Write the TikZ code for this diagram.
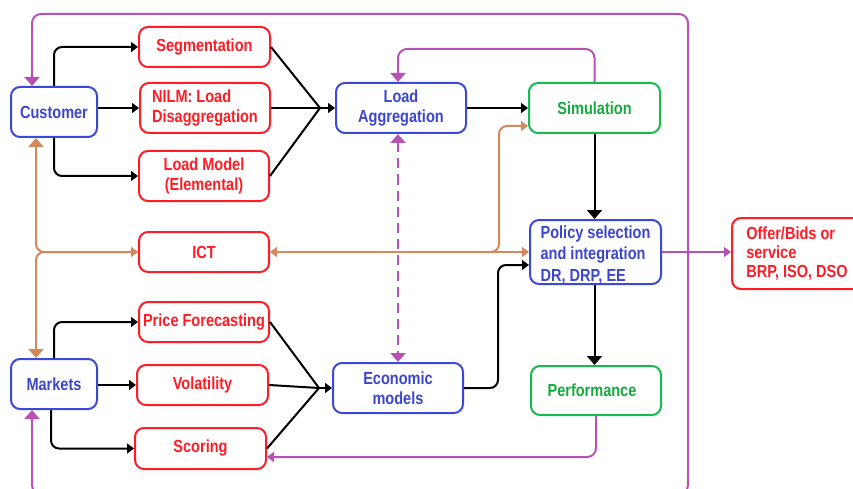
\documentclass[tikz,border=0pt]{standalone}
\usepackage{fontspec}
\setmainfont{Liberation Sans}[FakeStretch=0.83]
\usetikzlibrary{arrows.meta}
\definecolor{cred}{RGB}{255,28,36}
\definecolor{cblue}{RGB}{58,74,214}
\definecolor{tblue}{RGB}{60,70,205}
\definecolor{cgreen}{RGB}{22,186,80}
\definecolor{tgreen}{RGB}{20,170,60}
\definecolor{cpurple}{RGB}{182,82,182}
\definecolor{corange}{RGB}{212,136,92}
\begin{document}
\begin{tikzpicture}[x=1pt,y=-1pt,
  box/.style={draw, rounded corners=9pt, line width=2pt, fill=white,
    inner xsep=2pt, inner ysep=0pt, align=center,
    font=\fontsize{17.5}{20.5}\selectfont\bfseries},
  rbox/.style={box, draw=cred, text=cred},
  bbox/.style={box, draw=cblue, text=tblue},
  gbox/.style={box, draw=cgreen, text=tgreen},
  wire/.style={line width=2pt},
  blk/.style={wire, draw=black},
  prp/.style={wire, draw=cpurple},
  org/.style={wire, draw=corange},
  sa/.style={-{Triangle[width=10pt,length=7pt]}},
  ba/.style={-{Triangle[width=15pt,length=9pt]}},
  sasa/.style={{Triangle[width=10pt,length=7pt]}-{Triangle[width=10pt,length=7pt]}},
  baba/.style={{Triangle[width=15pt,length=9pt]}-{Triangle[width=15pt,length=9pt]}}]
\useasboundingbox (0,0) rectangle (853,489);

% ---- boxes ----
\node[bbox, minimum width=86pt, minimum height=50pt] (cust) at (54,112) {Customer};
\node[bbox, minimum width=86pt, minimum height=50pt] (mk) at (54,384) {Markets};

\node[rbox, minimum width=131pt, minimum height=40pt] (seg) at (204.5,47) {Segmentation};
\node[rbox, anchor=west, inner xsep=11pt, align=left, minimum width=130pt, minimum height=50pt] (nilm) at (139,108) {NILM: Load\\Disaggregation};
\node[rbox, minimum width=130pt, minimum height=50pt] (lm) at (204,176) {Load Model\\(Elemental)};
\node[rbox, minimum width=130pt, minimum height=40pt] (ict) at (204,252) {ICT};
\node[rbox, minimum width=130pt, minimum height=40pt] (pf) at (204,322) {Price Forecasting};
\node[rbox, minimum width=131pt, minimum height=40pt] (vol) at (202.5,385) {Volatility};
\node[rbox, minimum width=131pt, minimum height=41pt] (sc) at (200.5,448.5) {Scoring};

\node[bbox, minimum width=130pt, minimum height=50pt] (la) at (401,108) {Load\\Aggregation};
\node[bbox, minimum width=130pt, minimum height=50pt] (em) at (398,388) {Economic\\models};

\node[gbox, minimum width=131pt, minimum height=50pt] (sim) at (594.5,108) {Simulation};
\node[bbox, anchor=west, inner xsep=10pt, align=left, minimum width=131pt, minimum height=64pt,
  font=\fontsize{17.5}{21.5}\selectfont\bfseries] (pol) at (529,252)
  {\rule{0pt}{18pt}Policy selection\\and integration\\DR, DRP, EE};
\node[gbox, minimum width=130pt, minimum height=49pt] (perf) at (596,390.5) {Performance\hspace*{8pt}};

\node[rbox, anchor=west, inner xsep=13pt, align=left, minimum width=130pt, minimum height=71pt,
  font=\fontsize{17.5}{19}\selectfont\bfseries] (off) at (731,253.5)
  {Offer/Bids or\\service\\BRP, ISO, DSO};

% ---- junctions of the fan-in connectors ----
\coordinate (fa) at (320,108);
\coordinate (fb) at (319,388);

% ---- black flow ----
\draw[blk, sa, rounded corners=8pt] (cust.north) |- (seg.west);
\draw[blk, sa] (cust.east |- nilm.west) -- (nilm.west);
\draw[blk, sa, rounded corners=8pt] (cust.south) |- (lm.west);
\draw[blk] (seg.east) -- (fa);
\draw[blk] (nilm.east) -- (fa);
\draw[blk] (lm.east) -- (fa);
\draw[blk, sa] (fa) -- (la.west);
\draw[blk, sa] (la.east) -- (sim.west);
\draw[blk, ba] (sim.south) -- (sim.south |- pol.north);
\draw[blk, ba] (sim.south |- pol.south) -- (sim.south |- perf.north);

\draw[blk, sa, rounded corners=8pt] (mk.north) |- (pf.west);
\draw[blk, sa] (mk.east |- vol.west) -- (vol.west);
\draw[blk, sa, rounded corners=8pt] ([xshift=-3pt]mk.south) |- (sc.west);
\draw[blk] (pf.east) -- (fb);
\draw[blk] (vol.east) -- (fb);
\draw[blk] (sc.east) -- (fb);
\draw[blk, sa] (fb) -- (em.west);
\coordinate (polin) at ([yshift=-13pt]pol.west);
\draw[blk, sa, rounded corners=8pt] (em.east) -| ([xshift=-31pt]polin) -- (polin);

% ---- ICT links ----
\draw[org, ba, rounded corners=8pt] (ict.west) -| ([xshift=-18pt]cust.south);
\draw[org, ba, rounded corners=8pt] (ict.west) -| ([xshift=-18pt]mk.north);
\draw[org, sa] ([xshift=-10pt]ict.west) -- (ict.west);
\draw[org, sasa] (ict.east) -- (ict.east -| pol.west);
\coordinate (simin) at ([yshift=-18pt]sim.west);
\draw[org, sa, rounded corners=8pt] ([xshift=-45pt]ict.east -| pol.west) -| ([xshift=-29pt]simin) -- (simin);

% ---- feedback loops ----
\draw[prp, ba, rounded corners=9pt] (sim.north) |- ([xshift=-3pt,yshift=33pt]la.north) -- ([xshift=-3pt]la.north);
\draw[prp, baba, dash pattern=on 10pt off 6pt] ([xshift=-3pt]la.south) -- (em.north);
\draw[prp, sa, rounded corners=9pt] (perf.south) |- ([yshift=-8.5pt]sc.east);
\draw[prp, sa] (pol.east) -- (pol.east -| off.west);
\draw[prp, baba, rounded corners=9pt] ([xshift=-22pt]mk.south) -- (32,494) -- (688,494)
  -- (688,14) -- (32,14) -- ([xshift=-22pt]cust.north);
\end{tikzpicture}
\end{document}
